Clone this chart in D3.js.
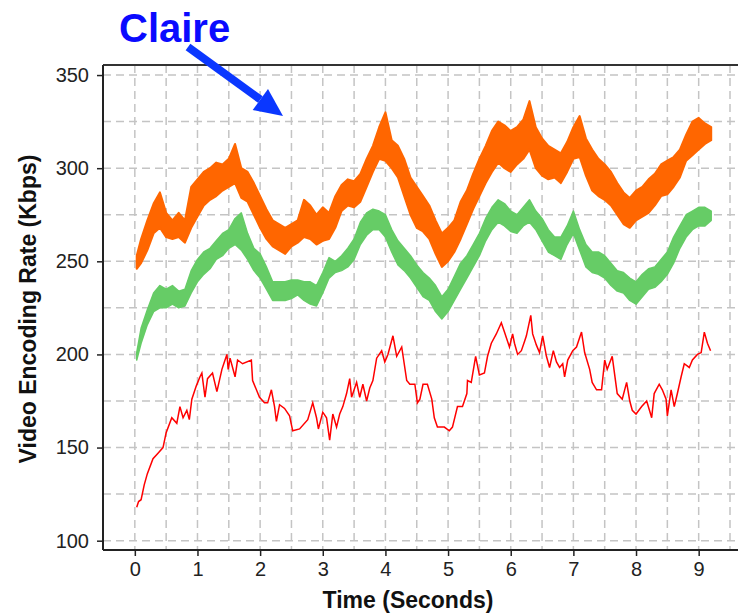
<!DOCTYPE html>
<html>
<head>
<meta charset="utf-8">
<script src="https://cdn.jsdelivr.net/npm/d3@7"></script>
<style>
  body { margin: 0; background: #fff; }
  svg { display: block; }
  text { font-family: "Liberation Sans", Arial, sans-serif; }
</style>
</head>
<body>
<div id="chart"></div>
<script>
// sample times (s) shared by the two thick series
const times = [0.03, 0.1, 0.2, 0.3, 0.4, 0.5, 0.6, 0.7, 0.8, 0.9,
  1.0, 1.1, 1.2, 1.3, 1.4, 1.5, 1.6, 1.7, 1.8, 1.9,
  2.0, 2.1, 2.2, 2.3, 2.4, 2.5, 2.6, 2.7, 2.8, 2.9,
  3.0, 3.1, 3.2, 3.3, 3.4, 3.5, 3.6, 3.7, 3.8, 3.9,
  4.0, 4.1, 4.2, 4.3, 4.4, 4.5, 4.6, 4.7, 4.8, 4.9,
  5.0, 5.1, 5.2, 5.3, 5.4, 5.5, 5.6, 5.7, 5.8, 5.9,
  6.0, 6.1, 6.2, 6.3, 6.4, 6.5, 6.6, 6.7, 6.8, 6.9,
  7.0, 7.1, 7.2, 7.3, 7.4, 7.5, 7.6, 7.7, 7.8, 7.9,
  8.0, 8.1, 8.2, 8.3, 8.4, 8.5, 8.6, 8.7, 8.8, 8.9,
  9.0, 9.1, 9.2];

// orange series: low / high envelope of the jitter (Kbps)
const orangeLo = [246, 249, 256, 265, 268, 263, 262, 263, 260, 268,
  274, 280, 283, 285, 288, 290, 292, 284, 282, 275,
  268, 262, 258, 256, 254, 258, 260, 263, 262, 259,
  261, 262, 268, 277, 280, 279, 282, 290, 298, 305,
  304, 300, 295, 285, 275, 268, 266, 262, 254, 247,
  250, 255, 262, 270, 278, 285, 292, 298, 303, 300,
  298, 302, 305, 310, 300, 296, 294, 295, 292, 298,
  305, 306, 296, 288, 285, 283, 280, 275, 270, 268,
  272, 274, 276, 280, 285, 286, 290, 295, 304, 307,
  310, 313, 315];
const orangeHi = [253, 262, 272, 281, 287, 276, 272, 276, 272, 290,
  294, 298, 300, 303, 302, 305, 313, 300, 298, 292,
  285, 278, 272, 270, 268, 270, 272, 283, 280, 275,
  279, 276, 285, 291, 294, 293, 297, 305, 312, 322,
  330, 315, 312, 305, 295, 290, 285, 280, 272, 265,
  268, 272, 282, 288, 297, 305, 312, 320, 325, 323,
  320, 322, 326, 336, 322, 316, 312, 310, 308, 314,
  322, 328, 316, 310, 305, 302, 298, 292, 287, 284,
  288, 290, 294, 297, 302, 304, 306, 310, 318, 325,
  327, 324, 322];

// green series: low / high envelope (Kbps)
const greenLo = [197, 206, 216, 223, 225, 225, 227, 225, 226, 233,
  239, 243, 246, 251, 253, 257, 259, 256, 251, 245,
  241, 235, 229, 229, 229, 230, 232, 229, 227, 226,
  233, 241, 244, 245, 247, 251, 259, 264, 267, 267,
  263, 255, 248, 245, 241, 236, 231, 229, 223, 219,
  223, 229, 235, 241, 247, 253, 261, 267, 271, 269,
  266, 265, 269, 271, 267, 261, 255, 253, 251, 259,
  265, 256, 247, 244, 243, 241, 237, 234, 233, 229,
  227, 231, 235, 236, 239, 243, 249, 257, 263, 267,
  269, 269, 272];
const greenHi = [201, 214, 224, 233, 237, 235, 237, 234, 235, 245,
  251, 255, 257, 261, 265, 267, 273, 276, 265, 257,
  254, 247, 239, 239, 239, 240, 240, 239, 239, 237,
  244, 252, 250, 253, 257, 262, 271, 276, 278, 277,
  275, 267, 261, 257, 253, 248, 244, 241, 237, 231,
  235, 242, 249, 253, 259, 265, 273, 279, 283, 281,
  277, 275, 279, 283, 277, 273, 267, 263, 263, 269,
  277, 267, 259, 255, 255, 253, 249, 245, 244, 241,
  239, 243, 246, 247, 251, 255, 263, 269, 275, 277,
  279, 279, 277];

// red series (thin line)
const redTimes = [0.03, 0.06, 0.1, 0.15, 0.2, 0.29, 0.37, 0.45, 0.5, 0.59,
  0.67, 0.72, 0.77, 0.83, 0.87, 0.91, 0.98, 1.04, 1.07, 1.12,
  1.16, 1.24, 1.31, 1.39, 1.44, 1.47, 1.49, 1.52, 1.6, 1.64,
  1.72, 1.86, 1.88, 1.99, 2.07, 2.12, 2.18, 2.23, 2.26, 2.31,
  2.39, 2.47, 2.52, 2.63, 2.76, 2.84, 2.9, 2.93, 3.0, 3.06,
  3.11, 3.16, 3.22, 3.27, 3.32, 3.38, 3.43, 3.46, 3.54, 3.59,
  3.64, 3.7, 3.75, 3.8, 3.86, 3.94, 3.99, 4.04, 4.12, 4.18,
  4.26, 4.34, 4.39, 4.47, 4.51, 4.55, 4.6, 4.67, 4.74, 4.78,
  4.83, 4.94, 5.02, 5.07, 5.15, 5.23, 5.3, 5.31, 5.37, 5.44,
  5.5, 5.58, 5.63, 5.69, 5.77, 5.85, 5.9, 5.98, 6.03, 6.06,
  6.11, 6.17, 6.22, 6.25, 6.32, 6.35, 6.41, 6.46, 6.51, 6.57,
  6.62, 6.68, 6.73, 6.78, 6.83, 6.86, 6.91, 6.99, 7.05, 7.13,
  7.18, 7.26, 7.3, 7.37, 7.45, 7.5, 7.54, 7.62, 7.7, 7.78,
  7.85, 7.9, 7.94, 8.0, 8.09, 8.17, 8.25, 8.29, 8.37, 8.42,
  8.48, 8.5, 8.56, 8.61, 8.66, 8.72, 8.77, 8.85, 8.9, 8.98,
  9.04, 9.09, 9.14, 9.19];
const redValues = [118, 121, 122, 130, 136, 144, 147, 150, 158, 166,
  163, 172, 166, 170, 165, 176, 183, 188, 190, 177,
  187, 190, 180, 192, 197, 200, 192, 198, 188, 197,
  195, 197, 186, 177, 174, 174, 181, 172, 164, 173,
  171, 167, 159, 160, 165, 174, 166, 160, 169, 166,
  154, 168, 161, 168, 172, 179, 187, 177, 185, 177,
  184, 175, 182, 186, 198, 202, 196, 200, 210, 199,
  204, 186, 184, 184, 174, 176, 184, 184, 176, 166,
  161, 161, 159, 161, 172, 172, 179, 186, 185, 199,
  189, 190, 199, 206, 211, 217, 212, 204, 211, 206,
  200, 202, 207, 210, 221, 211, 205, 201, 210, 199,
  193, 202, 196, 193, 195, 188, 197, 202, 204, 212,
  201, 192, 185, 181, 181, 197, 192, 199, 179, 176,
  185, 175, 170, 168, 172, 175, 166, 179, 184, 181,
  176, 167, 181, 172, 179, 188, 195, 193, 197, 200,
  201, 212, 206, 202];

const yTicks = [100, 150, 200, 250, 300, 350];
const xTicks = [0, 1, 2, 3, 4, 5, 6, 7, 8, 9];
const yGrid = [100, 125, 150, 175, 200, 225, 250, 275, 300, 325, 350];
const xGrid = [0, 0.5, 1, 1.5, 2, 2.5, 3, 3.5, 4, 4.5, 5, 5.5, 6, 6.5, 7, 7.5, 8, 8.5, 9, 9.5];

const width = 738, height = 613;
const plotLeft = 103, plotTop = 65, plotBottom = 550;

const svg = d3.select("#chart").append("svg")
  .attr("width", width).attr("height", height);

const x = d3.scaleLinear().domain([-0.5, 9.5]).range([103.5, 730]);
const y = d3.scaleLinear().domain([95, 355.4]).range([plotBottom, plotTop]);

// grid
svg.append("g").selectAll("line").data(yGrid).join("line")
  .attr("x1", plotLeft).attr("x2", width)
  .attr("y1", d => y(d)).attr("y2", d => y(d))
  .attr("stroke", "#c4c4c4").attr("stroke-width", 1.5)
  .attr("stroke-dasharray", "8,5");
svg.append("g").selectAll("line").data(xGrid).join("line")
  .attr("x1", d => x(d)).attr("x2", d => x(d))
  .attr("y1", plotTop).attr("y2", plotBottom)
  .attr("stroke", "#c4c4c4").attr("stroke-width", 1.5)
  .attr("stroke-dasharray", "8,5");

// series
const band = (lo, hi) => d3.area()
  .x((d, i) => x(times[i]))
  .y0((d, i) => y(lo[i]))
  .y1((d, i) => y(hi[i]));

svg.append("path").datum(times)
  .attr("d", band(orangeLo, orangeHi))
  .attr("fill", "#ff6600").attr("stroke", "#ff6600")
  .attr("stroke-width", 2).attr("stroke-linejoin", "round");

svg.append("path").datum(times)
  .attr("d", band(greenLo, greenHi))
  .attr("fill", "#66cc66").attr("stroke", "#66cc66")
  .attr("stroke-width", 1.5).attr("stroke-linejoin", "round");

svg.append("path").datum(redTimes)
  .attr("d", d3.line().x(d => x(d)).y((d, i) => y(redValues[i])))
  .attr("fill", "none").attr("stroke", "#ff0000").attr("stroke-width", 1.5);

// frame
svg.append("line").attr("x1", plotLeft).attr("x2", width)
  .attr("y1", plotTop).attr("y2", plotTop)
  .attr("stroke", "#333").attr("stroke-width", 2);

const yAxis = svg.append("g")
  .attr("transform", `translate(${plotLeft},0)`)
  .call(d3.axisLeft(y).tickValues(yTicks).tickSize(6).tickPadding(8));
yAxis.select(".domain").attr("stroke", "#222").attr("stroke-width", 2)
  .attr("d", `M0,${plotTop}V${plotBottom}`);

const xAxis = svg.append("g")
  .attr("transform", `translate(0,${plotBottom})`)
  .call(d3.axisBottom(x).tickValues(xTicks).tickSize(6).tickPadding(6));
xAxis.select(".domain").attr("stroke", "#222").attr("stroke-width", 2)
  .attr("d", `M${plotLeft},0H${width}`);

svg.selectAll(".tick line").attr("stroke", "#222").attr("stroke-width", 1.5);
svg.selectAll(".tick text")
  .attr("font-family", "'Liberation Sans', Arial, sans-serif")
  .attr("font-size", 20).attr("fill", "#222");

// axis titles
svg.append("text")
  .attr("transform", "translate(36,309) rotate(-90)")
  .attr("text-anchor", "middle")
  .attr("font-size", 23).attr("font-weight", "bold").attr("fill", "#111")
  .text("Video Encoding Rate (Kbps)");

svg.append("text")
  .attr("x", 408).attr("y", 608)
  .attr("text-anchor", "middle")
  .attr("font-size", 23).attr("font-weight", "bold").attr("fill", "#111")
  .text("Time (Seconds)");

// annotation
svg.append("text")
  .attr("x", 119).attr("y", 42)
  .attr("font-size", 40).attr("font-weight", "bold").attr("fill", "#0a0aff")
  .text("Claire");

const a0 = [188, 47], a1 = [283, 116];
const ang = Math.atan2(a1[1] - a0[1], a1[0] - a0[0]);
const headLen = 28, headW = 13;
const bx = a1[0] - headLen * Math.cos(ang), by = a1[1] - headLen * Math.sin(ang);
svg.append("line")
  .attr("x1", a0[0]).attr("y1", a0[1]).attr("x2", bx).attr("y2", by)
  .attr("stroke", "#0a37ff").attr("stroke-width", 8);
svg.append("path")
  .attr("d", d3.line()([
    a1,
    [bx + headW * Math.sin(ang), by - headW * Math.cos(ang)],
    [bx - headW * Math.sin(ang), by + headW * Math.cos(ang)]
  ]) + "Z")
  .attr("fill", "#0a37ff");
</script>
</body>
</html>
